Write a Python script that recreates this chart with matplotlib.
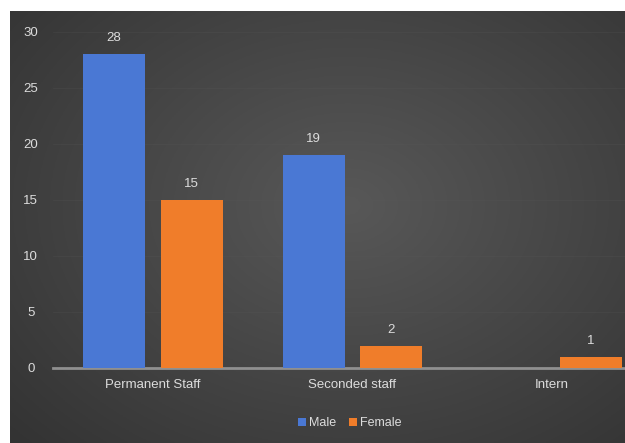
import numpy as np
import matplotlib
matplotlib.use("Agg")
import matplotlib.pyplot as plt

categories = ["Permanent Staff", "Seconded staff", "Intern"]
male = [28, 19, 0]
female = [15, 2, 1]
yticks = [0, 5, 10, 15, 20, 25, 30]

plt.rcParams['font.family'] = ['Liberation Sans', 'DejaVu Sans']
W, H = 625, 443
fig = plt.figure(figsize=(W/100, H/100), dpi=100, facecolor='white')

# background panel with radial gradient
bg = fig.add_axes([10/W, 0, (W-10)/W, (H-11)/H], zorder=-5)
yy, xx = np.mgrid[0:1:200j, 0:1:300j]
r = np.sqrt(((xx-0.55)/0.75)**2 + ((yy-0.55)/0.8)**2)
r = np.clip(r, 0, 1)
c0 = np.array([0x58, 0x58, 0x58])/255
c1 = np.array([0x33, 0x33, 0x33])/255
img = c0[None, None, :]*(1-r[..., None]) + c1[None, None, :]*r[..., None]
bg.imshow(img, aspect='auto', extent=[0, 1, 0, 1], origin='lower')
bg.set_axis_off()

ax = fig.add_axes([53/W, (H-368)/H, (652-53)/W, (368-32)/H])
ax.set_facecolor('none')
x = np.arange(len(categories))
off, bw = 0.195, 0.31
mcol, fcol = '#4a78d4', '#f07d2a'
b1 = ax.bar(x-off, male, bw, color=mcol, label='Male', zorder=3)
b2 = ax.bar(x+off, female, bw, color=fcol, label='Female', zorder=3)
tc = '#dcdcdc'
for xi, v in zip(x-off, male):
    if v > 0:
        ax.text(xi, v+0.9, str(v), ha='center', va='bottom', color=tc, fontsize=9.5)
for xi, v in zip(x+off, female):
    ax.text(xi, v+0.9, str(v), ha='center', va='bottom', color=tc, fontsize=9.5)

ax.set_xlim(-0.5, 2.5)
ax.set_ylim(0, 30)
ax.set_yticks(yticks)
ax.set_yticklabels([str(t) for t in yticks], color=tc, fontsize=9.5)
ax.set_xticks(x)
ax.set_xticklabels(categories, color=tc, fontsize=9.5)
ax.tick_params(axis='both', length=0)
ax.tick_params(axis='y', pad=16)
for lbl in ax.get_yticklabels():
    lbl.set_horizontalalignment('center')
ax.tick_params(axis='x', pad=8)
for s in ['top', 'right', 'left']:
    ax.spines[s].set_visible(False)
ax.spines['bottom'].set_color('#909090')
ax.spines['bottom'].set_linewidth(2)
ax.yaxis.grid(True, color='#5a5a5a', linewidth=0.5, alpha=0.3, zorder=0)
ax.set_axisbelow(True)

leg = fig.legend(handles=[b1, b2], loc='center', bbox_to_anchor=(350/W, 1-423/H),
                 ncol=2, frameon=False, fontsize=9, handlelength=0.6,
                 handleheight=0.6, handletextpad=0.3, columnspacing=1.0)
for t in leg.get_texts():
    t.set_color(tc)

fig.savefig('out.png', dpi=100, facecolor='white')
